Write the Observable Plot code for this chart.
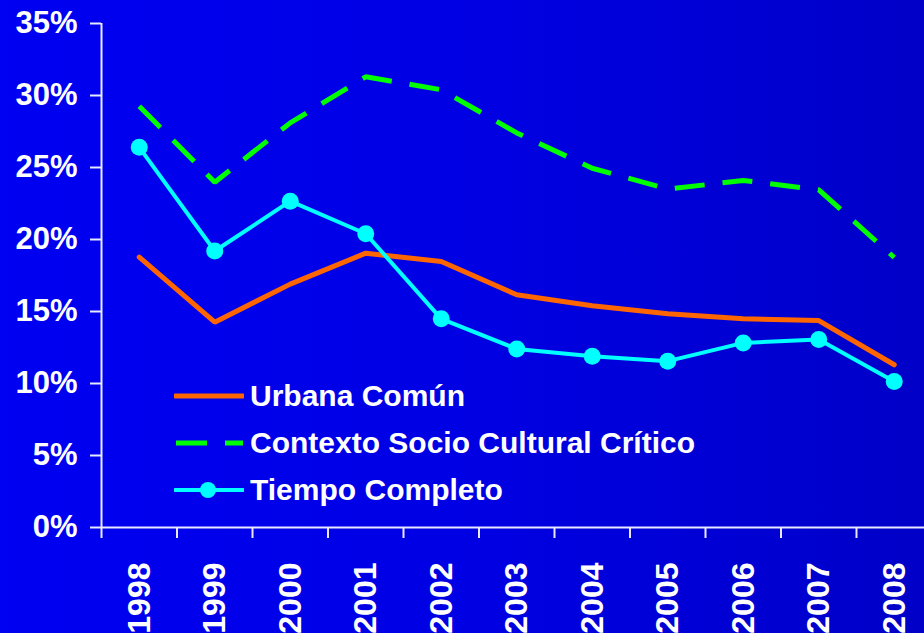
<!DOCTYPE html>
<html>
<head>
<meta charset="utf-8">
<script src="https://cdn.jsdelivr.net/npm/d3@7"></script>
<script src="https://cdn.jsdelivr.net/npm/@observablehq/plot@0.6"></script>
<style>
  html, body { margin: 0; padding: 0; }
  body {
    width: 924px; height: 633px; overflow: hidden; position: relative;
    background: linear-gradient(90deg, #0000f2 0%, #0000e4 50%, #0000c8 100%);
    font-family: "Liberation Sans", Arial, sans-serif;
  }
  #chart { position: absolute; left: 0; top: 0; width: 940px; }
  #legend { position: absolute; left: 174px; top: 376px; color: white; font-weight: bold; font-size: 30px; }
  .row { position: absolute; left: 0; height: 40px; display: flex; align-items: center; white-space: nowrap; }
  .row svg { margin-right: 6px; }
</style>
</head>
<body>
<div id="chart"></div>
<div id="legend"></div>
<script>
const years = [1998, 1999, 2000, 2001, 2002, 2003, 2004, 2005, 2006, 2007, 2008];
const urbana = [18.77, 14.26, 16.9, 19.05, 18.47, 16.16, 15.4, 14.84, 14.49, 14.37, 11.3];
const contexto = [29.26, 23.98, 28.1, 31.3, 30.4, 27.4, 24.95, 23.5, 24.1, 23.45, 18.75];
const tiempo = [26.4, 19.2, 22.66, 20.4, 14.49, 12.4, 11.9, 11.55, 12.82, 13.06, 10.14];
const yTicks = [0, 5, 10, 15, 20, 25, 30, 35];
const seriesNames = ["Urbana Común", "Contexto Socio Cultural Crítico", "Tiempo Completo"];
const colors = ["#ff6600", "#00ff00", "#00ffff"];

const boundaries = years.map(y => y - 0.5).concat([years[years.length - 1] + 0.5]);
const rows = (vals) => years.map((y, i) => ({year: y, value: vals[i]}));
const axisColor = "#e8e8ff";

const chart = Plot.plot({
  width: 935,
  height: 633,
  marginLeft: 101,
  marginRight: 3.5,
  marginTop: 23,
  marginBottom: 106,
  style: {background: "transparent", color: "white", fontFamily: "Liberation Sans, Arial, sans-serif", overflow: "visible", maxWidth: "none"},
  x: {type: "linear", domain: [years[0] - 0.5, years[years.length - 1] + 0.5]},
  y: {domain: [0, 35]},
  marks: [
    Plot.axisY({ticks: yTicks, tickFormat: d => d + "%", tickSize: 11, tickPadding: 13, stroke: axisColor, strokeWidth: 2, fill: "white", fontSize: 31, fontWeight: "bold", label: null}),
    Plot.axisX({ticks: boundaries, tickFormat: () => "", tickSize: 11, stroke: axisColor, strokeWidth: 2, label: null}),
    Plot.ruleX([years[0] - 0.5], {y1: 0, y2: 35, stroke: axisColor, strokeWidth: 2}),
    Plot.ruleY([0], {stroke: axisColor, strokeWidth: 2}),
    Plot.text(years, {x: d => d, frameAnchor: "bottom", dy: 35, rotate: -90, textAnchor: "end", lineAnchor: "middle", text: d => String(d), fill: "white", fontSize: 32, fontWeight: "bold"}),
    Plot.line(rows(urbana), {x: "year", y: "value", stroke: colors[0], strokeWidth: 5, strokeLinejoin: "miter"}),
    Plot.line(rows(contexto), {x: "year", y: "value", stroke: colors[1], strokeWidth: 5, strokeDasharray: "30,18", strokeLinecap: "butt", strokeLinejoin: "miter"}),
    Plot.line(rows(tiempo), {x: "year", y: "value", stroke: colors[2], strokeWidth: 4}),
    Plot.dot(rows(tiempo), {x: "year", y: "value", r: 8.5, fill: colors[2], stroke: "none"})
  ]
});
document.getElementById("chart").appendChild(chart);

// legend
const legend = d3.select("#legend");
seriesNames.forEach((name, i) => {
  const row = legend.append("div").attr("class", "row").style("top", (i * 47) + "px");
  const sw = row.append("svg").attr("width", 70).attr("height", 20);
  if (i === 0) {
    sw.append("line").attr("x1", 1).attr("x2", 69).attr("y1", 10).attr("y2", 10).attr("stroke", colors[0]).attr("stroke-width", 5).attr("stroke-linecap", "round");
  } else if (i === 1) {
    sw.append("line").attr("x1", 2).attr("x2", 69).attr("y1", 10).attr("y2", 10).attr("stroke", colors[1]).attr("stroke-width", 5).attr("stroke-dasharray", "31,18");
  } else {
    sw.append("line").attr("x1", 1).attr("x2", 69).attr("y1", 10).attr("y2", 10).attr("stroke", colors[2]).attr("stroke-width", 4).attr("stroke-linecap", "round");
    sw.append("circle").attr("cx", 34).attr("cy", 10).attr("r", 8).attr("fill", colors[2]);
  }
  row.append("span").text(name);
});
</script>
</body>
</html>
